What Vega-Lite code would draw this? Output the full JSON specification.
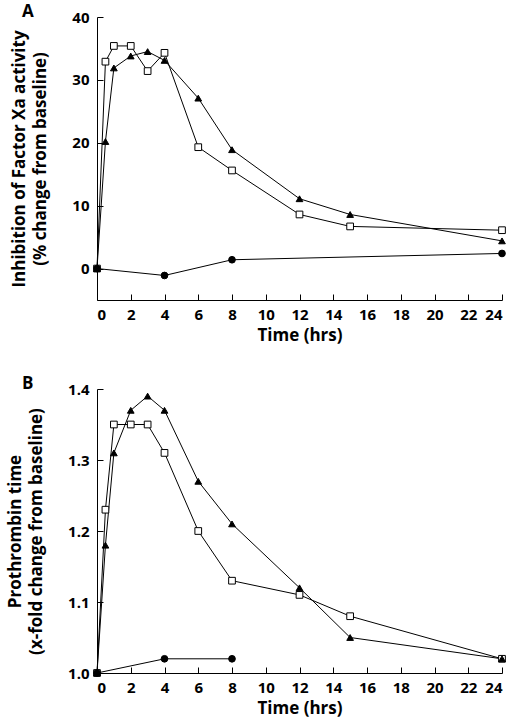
{
  "$schema": "https://vega.github.io/schema/vega-lite/v6.json",
  "padding": {"left": 6, "top": 3, "right": 4, "bottom": 2},
  "spacing": 32,
  "config": {
    "view": {"stroke": null},
    "font": "Open Sans",
    "axis": {
      "grid": false,
      "domainColor": "black",
      "tickColor": "black",
      "tickSize": -6,
      "labelColor": "black",
      "labelFont": "Open Sans",
      "labelFontWeight": "bold",
      "labelFontSize": 15,
      "titleFont": "Open Sans",
      "titleFontWeight": "bold",
      "titleFontSize": 17,
      "titleColor": "black",
      "titleLineHeight": 21
    },
    "title": {"font": "Open Sans", "fontSize": 17, "fontWeight": "bold", "color": "black", "anchor": "start", "frame": "group"}
  },
  "datasets": {
    "pts": [
      {"panel": "A", "series": "sq", "t": 0, "v": 0},
      {"panel": "A", "series": "sq", "t": 0.5, "v": 32.9},
      {"panel": "A", "series": "sq", "t": 1, "v": 35.4},
      {"panel": "A", "series": "sq", "t": 2, "v": 35.4},
      {"panel": "A", "series": "sq", "t": 3, "v": 31.4},
      {"panel": "A", "series": "sq", "t": 4, "v": 34.3},
      {"panel": "A", "series": "sq", "t": 6, "v": 19.3},
      {"panel": "A", "series": "sq", "t": 8, "v": 15.6},
      {"panel": "A", "series": "sq", "t": 12, "v": 8.6},
      {"panel": "A", "series": "sq", "t": 15, "v": 6.7},
      {"panel": "A", "series": "sq", "t": 24, "v": 6.1},
      {"panel": "A", "series": "tri", "t": 0, "v": 0},
      {"panel": "A", "series": "tri", "t": 0.5, "v": 20.2},
      {"panel": "A", "series": "tri", "t": 1, "v": 31.9},
      {"panel": "A", "series": "tri", "t": 2, "v": 33.8},
      {"panel": "A", "series": "tri", "t": 3, "v": 34.5},
      {"panel": "A", "series": "tri", "t": 4, "v": 33.1},
      {"panel": "A", "series": "tri", "t": 6, "v": 27.1},
      {"panel": "A", "series": "tri", "t": 8, "v": 18.9},
      {"panel": "A", "series": "tri", "t": 12, "v": 11.1},
      {"panel": "A", "series": "tri", "t": 15, "v": 8.6},
      {"panel": "A", "series": "tri", "t": 24, "v": 4.4},
      {"panel": "A", "series": "circ", "t": 0, "v": 0},
      {"panel": "A", "series": "circ", "t": 4, "v": -1.1},
      {"panel": "A", "series": "circ", "t": 8, "v": 1.4},
      {"panel": "A", "series": "circ", "t": 24, "v": 2.4},
      {"panel": "B", "series": "sq", "t": 0, "v": 1.0},
      {"panel": "B", "series": "sq", "t": 0.5, "v": 1.23},
      {"panel": "B", "series": "sq", "t": 1, "v": 1.35},
      {"panel": "B", "series": "sq", "t": 2, "v": 1.35},
      {"panel": "B", "series": "sq", "t": 3, "v": 1.35},
      {"panel": "B", "series": "sq", "t": 4, "v": 1.31},
      {"panel": "B", "series": "sq", "t": 6, "v": 1.2},
      {"panel": "B", "series": "sq", "t": 8, "v": 1.13},
      {"panel": "B", "series": "sq", "t": 12, "v": 1.11},
      {"panel": "B", "series": "sq", "t": 15, "v": 1.08},
      {"panel": "B", "series": "sq", "t": 24, "v": 1.02},
      {"panel": "B", "series": "tri", "t": 0, "v": 1.0},
      {"panel": "B", "series": "tri", "t": 0.5, "v": 1.18},
      {"panel": "B", "series": "tri", "t": 1, "v": 1.31},
      {"panel": "B", "series": "tri", "t": 2, "v": 1.37},
      {"panel": "B", "series": "tri", "t": 3, "v": 1.39},
      {"panel": "B", "series": "tri", "t": 4, "v": 1.37},
      {"panel": "B", "series": "tri", "t": 6, "v": 1.27},
      {"panel": "B", "series": "tri", "t": 8, "v": 1.21},
      {"panel": "B", "series": "tri", "t": 12, "v": 1.12},
      {"panel": "B", "series": "tri", "t": 15, "v": 1.05},
      {"panel": "B", "series": "tri", "t": 24, "v": 1.02},
      {"panel": "B", "series": "circ", "t": 0, "v": 1.0},
      {"panel": "B", "series": "circ", "t": 4, "v": 1.02},
      {"panel": "B", "series": "circ", "t": 8, "v": 1.02}
    ]
  },
  "vconcat": [
    {
      "width": 405,
      "height": 283,
      "title": {"text": "A", "dx": -75, "offset": -11},
      "data": {"name": "pts"},
      "transform": [{"filter": "datum.panel === 'A'"}],
      "encoding": {
        "x": {"field": "t", "type": "quantitative", "scale": {"domain": [0, 24], "nice": false},
              "axis": {"values": [0,2,4,6,8,10,12,14,16,18,20,22,24], "title": "Time (hrs)", "labelPadding": 13, "titlePadding": 5}},
        "y": {"field": "v", "type": "quantitative", "scale": {"domain": [-5, 40], "nice": false, "zero": false},
              "axis": {"values": [0,10,20,30,40], "title": ["Inhibition of Factor Xa activity", "(% change from baseline)"], "labelPadding": 14, "titlePadding": 22}}
      },
      "layer": [
        {"mark": {"type": "line", "color": "black", "strokeWidth": 1}, "encoding": {"detail": {"field": "series"}}},
        {"mark": {"type": "point", "filled": true, "stroke": "black", "strokeWidth": 1, "opacity": 1, "size": 45},
         "encoding": {
           "shape": {"field": "series", "scale": {"domain": ["sq","tri","circ"], "range": ["square","triangle-up","circle"]}, "legend": null},
           "fill": {"field": "series", "scale": {"domain": ["sq","tri","circ"], "range": ["white","black","black"]}, "legend": null}
         }}
      ]
    },
    {
      "width": 405,
      "height": 284,
      "title": {"text": "B", "dx": -75, "offset": -11},
      "data": {"name": "pts"},
      "transform": [{"filter": "datum.panel === 'B'"}],
      "encoding": {
        "x": {"field": "t", "type": "quantitative", "scale": {"domain": [0, 24], "nice": false},
              "axis": {"values": [0,2,4,6,8,10,12,14,16,18,20,22,24], "title": "Time (hrs)", "labelPadding": 13, "titlePadding": 5}},
        "y": {"field": "v", "type": "quantitative", "scale": {"domain": [1.0, 1.4], "nice": false, "zero": false},
              "axis": {"values": [1.0,1.1,1.2,1.3,1.4], "format": ".1f", "title": ["Prothrombin time", "(x-fold change from baseline)"], "labelPadding": 14, "titlePadding": 22}}
      },
      "layer": [
        {"mark": {"type": "line", "color": "black", "strokeWidth": 1}, "encoding": {"detail": {"field": "series"}}},
        {"mark": {"type": "point", "filled": true, "stroke": "black", "strokeWidth": 1, "opacity": 1, "size": 45},
         "encoding": {
           "shape": {"field": "series", "scale": {"domain": ["sq","tri","circ"], "range": ["square","triangle-up","circle"]}, "legend": null},
           "fill": {"field": "series", "scale": {"domain": ["sq","tri","circ"], "range": ["white","black","black"]}, "legend": null}
         }}
      ]
    }
  ]
}
